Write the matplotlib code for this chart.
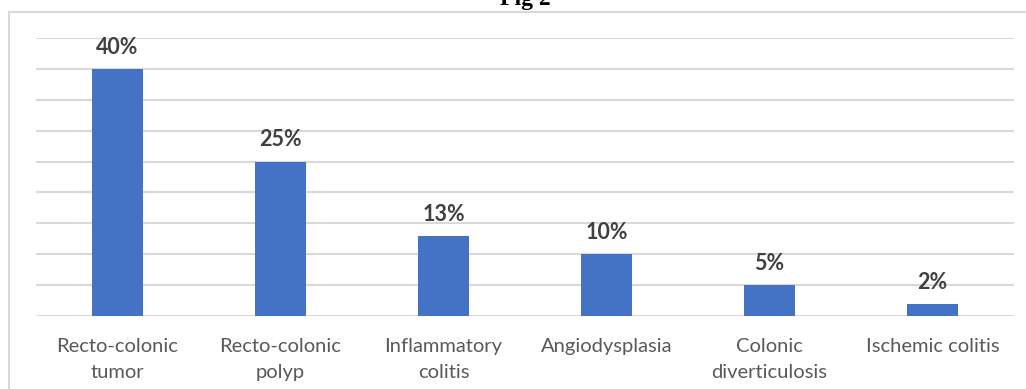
import matplotlib.pyplot as plt
from matplotlib.patches import Rectangle

categories = [
    "Recto-colonic\ntumor",
    "Recto-colonic\npolyp",
    "Inflammatory\ncolitis",
    "Angiodysplasia",
    "Colonic\ndiverticulosis",
    "Ischemic colitis",
]
values = [40, 25, 13, 10, 5, 2]
labels = ["40%", "25%", "13%", "10%", "5%", "2%"]

W, H = 1026, 389
fig = plt.figure(figsize=(W / 100, H / 100), dpi=100)

# chart frame (top and left edges show, the rest runs off the page)
fig.patches.append(Rectangle((9 / W, -0.1), 1.2, (H - 12) / H + 0.1,
                             transform=fig.transFigure, fill=False,
                             edgecolor="#d9d9d9", linewidth=1.5))

ax = fig.add_axes([36 / W, (H - 316) / H, 978 / W, 278 / H])
x = range(len(values))
ax.bar(x, values, width=0.31, color="#4472c4", zorder=3)
ax.set_xlim(-0.5, len(values) - 0.5)
ax.set_ylim(0, 45)
ax.set_yticks(range(0, 46, 5))
ax.yaxis.grid(True, color="#d9d9d9", linewidth=1.5)
ax.tick_params(left=False, labelleft=False, bottom=False)
for s in ax.spines.values():
    s.set_visible(False)

ax.set_xticks(list(x))
ax.set_xticklabels(categories, fontsize=14.5, color="#595959",
                   family="Lato", linespacing=1.6)
ax.tick_params(axis="x", pad=12.5)

for i, (v, t) in enumerate(zip(values, labels)):
    ax.annotate(t, (i, v), xytext=(0, 8), textcoords="offset points",
                ha="center", va="bottom", fontsize=15.5, fontweight="bold",
                color="#404040", family="Lato")

fig.text(525 / W, 1 - 5 / H, "Fig 2", ha="center", va="baseline",
         fontsize=17, fontweight="bold", family="Liberation Serif")

fig.savefig("out.png", dpi=100)
